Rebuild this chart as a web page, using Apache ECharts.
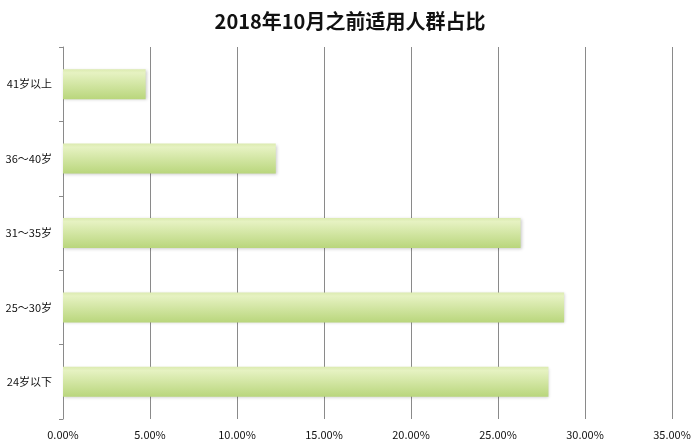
<!DOCTYPE html>
<html>
<head>
<meta charset="utf-8">
<script src="https://cdn.jsdelivr.net/npm/echarts@6/dist/echarts.min.js"></script>
<style>html,body{margin:0;padding:0;background:#fff;}#c{width:700px;height:446px;}</style>
</head>
<body>
<div id="c"></div>
<script>
var categories = ['24岁以下', '25～30岁', '31～35岁', '36～40岁', '41岁以上'];
var values = [0.279, 0.288, 0.263, 0.1223, 0.0475];
var xTicks = [0, 0.05, 0.10, 0.15, 0.20, 0.25, 0.30, 0.35];

var chart = echarts.init(document.getElementById('c'));
chart.setOption({
  animation: false,
  title: {
    text: '2018年10月之前适用人群占比',
    left: 'center', top: 6,
    textStyle: {fontFamily: 'Noto Sans CJK SC', fontSize: 20, fontWeight: 'bold', color: '#111'}
  },
  grid: {left: 63, right: 28, top: 47, bottom: 27, containLabel: false},
  xAxis: {
    type: 'value', min: 0, max: 0.35, interval: 0.05,
    axisLine: {show: false},
    axisTick: {show: false},
    splitLine: {show: true, lineStyle: {color: '#8a8a8a', width: 1}},
    axisLabel: {
      color: '#111', fontSize: 11, fontFamily: 'Noto Sans CJK SC', margin: 10,
      formatter: function (v) { return (v * 100).toFixed(2) + '%'; }
    }
  },
  yAxis: {
    type: 'category', data: categories,
    axisLine: {show: true, lineStyle: {color: '#8a8a8a'}},
    axisTick: {show: true, length: 4, inside: false, lineStyle: {color: '#8a8a8a'}},
    axisLabel: {color: '#111', fontSize: 11, fontFamily: 'Noto Sans CJK SC', margin: 11}
  },
  series: [{
    type: 'bar', data: values, barWidth: 30,
    itemStyle: {
      color: new echarts.graphic.LinearGradient(0, 0, 0, 1, [
        {offset: 0, color: '#dcebb0'},
        {offset: 0.12, color: '#e6f2c2'},
        {offset: 1, color: '#b9d67c'}
      ]),
      shadowColor: 'rgba(0,0,0,0.2)', shadowBlur: 3, shadowOffsetX: 1, shadowOffsetY: 1
    }
  }]
});
</script>
</body>
</html>
